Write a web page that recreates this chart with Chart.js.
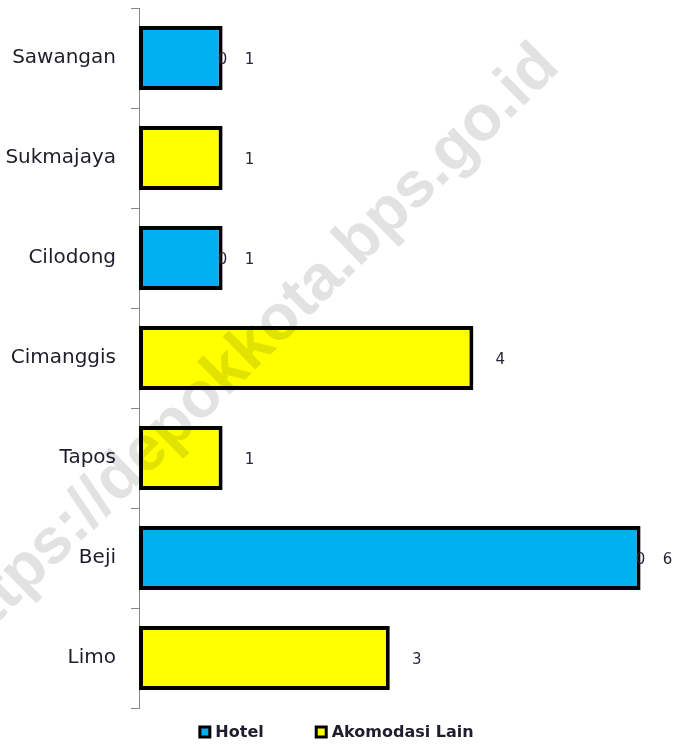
<!DOCTYPE html>
<html><head><meta charset="utf-8">
<script src="https://cdn.jsdelivr.net/npm/chart.js@4/dist/chart.umd.min.js"></script>
<style>html,body{margin:0;padding:0;background:#fff;}#wrap{width:676px;height:745px;}</style>
</head><body><div id="wrap"><canvas id="c" width="676" height="745"></canvas></div>
<script>
const categories = ['Sawangan', 'Sukmajaya', 'Cilodong', 'Cimanggis', 'Tapos', 'Beji', 'Limo'];
const hotel = [1, 0, 1, 0, 0, 6, 0];
const akomodasiLain = [0, 1, 0, 4, 1, 0, 3];
const seriesNames = ['Hotel', 'Akomodasi Lain'];
const seriesColors = ['#00b0f0', '#ffff00'];
const watermarkText = 'https://depokkota.bps.go.id';

const labelPlugin = {
  id: 'valueLabels',
  afterDatasetsDraw(chart) {
    const ctx = chart.ctx;
    ctx.save();
    ctx.font = '15px "DejaVu Sans"';
    ctx.fillStyle = '#26263a';
    ctx.textAlign = 'center';
    ctx.textBaseline = 'middle';
    chart.data.datasets.forEach((ds, di) => {
      const meta = chart.getDatasetMeta(di);
      meta.data.forEach((bar, i) => {
        const v = ds.data[i];
        if (v > 0) ctx.fillText(String(v), bar.x + 27, bar.y + 2);
        else if (di === 1) ctx.fillText('0', bar.x, bar.y + 2);
      });
    });
    ctx.restore();
  }
};

const legendPlugin = {
  id: 'customLegend',
  afterDraw(chart) {
    const ctx = chart.ctx;
    ctx.save();
    ctx.font = 'bold 16px "DejaVu Sans"';
    ctx.textBaseline = 'middle';
    const box = 13, gapText = 4, gapItem = 51;
    const items = chart.data.datasets.map(ds => ({label: ds.label, color: ds.backgroundColor, w: ctx.measureText(ds.label).width}));
    let total = 0;
    items.forEach((it, k) => { total += box + gapText + it.w + (k < items.length - 1 ? gapItem : 0); });
    let x = chart.width / 2 - total / 2 - 2;
    const y = chart.chartArea.bottom + 24;
    items.forEach(it => {
      ctx.fillStyle = '#000';
      ctx.fillRect(x, y - box / 2, box, box);
      ctx.fillStyle = it.color;
      ctx.fillRect(x + 3, y - box / 2 + 3, box - 6, box - 6);
      ctx.fillStyle = '#1e1e2e';
      ctx.textAlign = 'left';
      ctx.fillText(it.label, x + box + gapText, y + 1);
      x += box + gapText + it.w + gapItem;
    });
    ctx.restore();
  }
};

const watermarkPlugin = {
  id: 'watermark',
  afterDraw(chart) {
    const ctx = chart.ctx;
    ctx.save();
    ctx.globalCompositeOperation = 'multiply';
    ctx.translate(251, 349);
    ctx.rotate(-44.5 * Math.PI / 180);
    ctx.font = 'bold 64px "Liberation Sans"';
    ctx.fillStyle = '#e2e2e2';
    ctx.textAlign = 'center';
    ctx.textBaseline = 'middle';
    ctx.fillText(watermarkText, 0, 0);
    ctx.restore();
  }
};

new Chart(document.getElementById('c'), {
  type: 'bar',
  data: {
    labels: categories,
    datasets: [
      {label: seriesNames[0], data: hotel, backgroundColor: seriesColors[0], borderColor: '#000', borderWidth: 4, borderSkipped: false},
      {label: seriesNames[1], data: akomodasiLain, backgroundColor: seriesColors[1], borderColor: '#000', borderWidth: 4, borderSkipped: false}
    ]
  },
  options: {
    indexAxis: 'y',
    responsive: false,
    animation: false,
    devicePixelRatio: 1,
    layout: {padding: {top: 8, bottom: 37, right: 2, left: 0}},
    datasets: {bar: {categoryPercentage: 0.64, barPercentage: 1}},
    plugins: {legend: {display: false}, tooltip: {enabled: false}},
    scales: {
      x: {display: false, stacked: true, min: 0, max: 6.4},
      y: {
        stacked: true,
        afterFit(scale) { scale.width = 139; scale.paddingTop = 0; scale.paddingBottom = 0; },
        border: {display: true, color: '#888888', width: 1},
        grid: {display: true, drawOnChartArea: false, drawTicks: true, tickLength: 8, color: '#888888', offset: true},
        ticks: {padding: 15, color: '#1e1e2a', font: {family: '"DejaVu Sans"', size: 20}}
      }
    }
  },
  plugins: [labelPlugin, legendPlugin, watermarkPlugin]
});
</script></body></html>
